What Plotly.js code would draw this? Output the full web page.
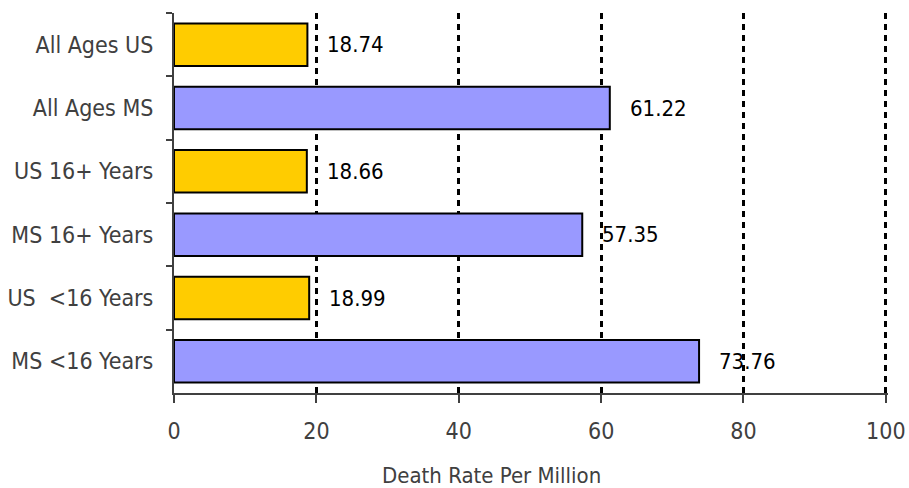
<!DOCTYPE html>
<html>
<head>
<meta charset="utf-8">
<script src="https://cdn.plot.ly/plotly-3.0.1.min.js"></script>
<style>html,body{margin:0;padding:0;background:#fff;}#chart{width:909px;height:488px;}</style>
</head>
<body>
<div id="chart"></div>
<script>
const categories = ["All Ages US", "All Ages MS", "US 16+ Years", "MS 16+ Years", "US  <16 Years", "MS <16 Years"];
const values = [18.74, 61.22, 18.66, 57.35, 18.99, 73.76];
const colors = ["#FFCC00", "#9999FF", "#FFCC00", "#9999FF", "#FFCC00", "#9999FF"];
const tickVals = [0, 20, 40, 60, 80, 100];
const xTitle = "Death Rate Per Million";

const FONT = "'DejaVu Sans Condensed', 'Liberation Sans Narrow', 'Liberation Sans', Arial, sans-serif";
const GREY = "#404040";

const trace = {
  type: "bar",
  orientation: "h",
  y: categories,
  x: values,
  marker: { color: colors, line: { color: "#000", width: 2 } },
  hoverinfo: "skip"
};

const annotations = values.map((v, i) => ({
  x: v, y: categories[i], xref: "x", yref: "y",
  text: v.toFixed(2), showarrow: false, xanchor: "left", xshift: 18,
  font: { family: FONT, size: 22, color: "#000" }
}));
annotations.push({
  x: 0.445, y: 0, xref: "paper", yref: "paper", yanchor: "middle", yshift: -82,
  text: xTitle, showarrow: false,
  font: { family: FONT, size: 22, color: GREY }
});

const layout = {
  width: 909, height: 488,
  margin: { l: 174, r: 21, t: 13, b: 95 },
  paper_bgcolor: "#fff", plot_bgcolor: "#fff",
  showlegend: false,
  bargap: 0.33,
  font: { family: FONT, color: GREY, size: 22 },
  xaxis: {
    range: [0, 100.3],
    tickvals: tickVals,
    ticks: "outside", ticklen: 8, tickwidth: 2, tickcolor: GREY,
    showline: true, linecolor: GREY, linewidth: 2,
    showgrid: true, gridcolor: "#000", gridwidth: 3, griddash: "6px,5px",
    zeroline: false,
    ticklabelstandoff: 8,
    tickfont: { family: FONT, size: 23, color: GREY },
    fixedrange: true
  },
  yaxis: {
    autorange: "reversed",
    type: "category",
    ticks: "outside", ticklen: 6, tickwidth: 2, tickcolor: GREY,
    tickson: "boundaries",
    showline: true, linecolor: GREY, linewidth: 2,
    showgrid: false, zeroline: false,
    ticklabelstandoff: 14,
    tickfont: { family: FONT, size: 23, color: GREY },
    fixedrange: true
  },
  annotations: annotations
};

Plotly.newPlot("chart", [trace], layout, { displayModeBar: false, staticPlot: true });
</script>
</body>
</html>
